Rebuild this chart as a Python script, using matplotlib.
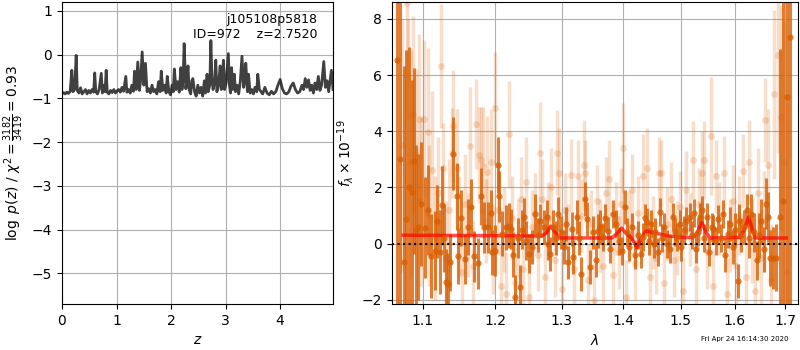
import numpy as np
import matplotlib
matplotlib.use("agg")
import matplotlib.pyplot as plt
from matplotlib.ticker import NullLocator, FixedLocator, FixedFormatter

# redshift fit, log p(z)
z_grid = [0.00, 0.03, 0.06, 0.09, 0.12, 0.15, 0.18, 0.20, 0.23, 0.26, 0.28, 0.31, 0.34, 0.37,
          0.40, 0.43, 0.46, 0.49, 0.52, 0.55, 0.58, 0.60, 0.62, 0.65, 0.68, 0.72, 0.74, 0.77,
          0.79, 0.81, 0.83, 0.86, 0.89, 0.92, 0.95, 0.98, 1.01, 1.04, 1.07, 1.10, 1.13, 1.17,
          1.19, 1.22, 1.25, 1.28, 1.31, 1.33, 1.36, 1.39, 1.42, 1.44, 1.47, 1.50, 1.53, 1.56,
          1.59, 1.62, 1.65, 1.68, 1.71, 1.74, 1.77, 1.80, 1.82, 1.85, 1.88, 1.91, 1.93, 1.96,
          1.99, 2.02, 2.04, 2.06, 2.09, 2.12, 2.15, 2.18, 2.20, 2.22, 2.24, 2.27, 2.29, 2.31,
          2.33, 2.36, 2.38, 2.40, 2.43, 2.46, 2.49, 2.52, 2.55, 2.58, 2.61, 2.63, 2.66, 2.68,
          2.71, 2.73, 2.75, 2.77, 2.80, 2.82, 2.84, 2.87, 2.90, 2.92, 2.94, 2.96, 2.98, 3.01,
          3.05, 3.07, 3.09, 3.11, 3.13, 3.16, 3.18, 3.21, 3.24, 3.27, 3.30, 3.33, 3.35, 3.37,
          3.40, 3.42, 3.45, 3.48, 3.51, 3.54, 3.57, 3.59, 3.62, 3.65, 3.68, 3.72, 3.76, 3.80,
          3.84, 3.88, 3.92, 3.96, 4.00, 4.04, 4.08, 4.12, 4.16, 4.20, 4.24, 4.28, 4.32, 4.36,
          4.40, 4.43, 4.46, 4.49, 4.52, 4.55, 4.58, 4.61, 4.64, 4.67, 4.70, 4.73, 4.76, 4.80,
          4.83, 4.86, 4.89, 4.92, 4.94, 4.97]
log_pz = [-0.90, -0.87, -0.90, -0.86, -0.89, -0.84, -0.36, -0.85, -0.80, -0.02, -0.82, -0.88, -0.76, -0.90,
          -0.85, -0.80, -0.90, -0.82, -0.88, -0.80, -0.86, -0.42, -0.85, -0.90, -0.80, -0.43, -0.88, -0.70,
          -0.85, -0.36, -0.86, -0.90, -0.82, -0.87, -0.80, -0.88, -0.83, -0.80, -0.86, -0.75, -0.84, -0.50,
          -0.86, -0.80, -0.88, -0.70, -0.84, -0.38, -0.80, -0.17, -0.82, -0.60, 0.06, -0.70, -0.20, -0.85,
          -0.78, -0.88, -0.70, -0.85, -0.80, -0.90, -0.62, -0.85, -0.38, -0.82, -0.70, -0.88, -0.50, -0.85,
          -0.92, -0.70, -0.85, -0.33, -0.80, -0.62, -0.86, -0.30, -0.80, -0.58, 0.25, -0.78, -0.62, -0.26,
          -0.80, -0.90, -0.60, -0.55, -0.85, -0.95, -0.70, -0.88, -0.75, -0.95, -0.60, -0.88, -0.45, -0.85,
          -0.70, 0.32, -0.55, -0.80, -0.60, -0.13, -0.85, -0.70, -0.26, -0.80, -0.55, -0.13, -0.80, -0.65,
          0.02, -0.70, -0.88, -0.30, -0.80, -0.45, -0.85, -0.70, -0.90, -0.60, -0.04, -0.75, -0.62, -0.20,
          -0.85, -0.45, -0.88, -0.80, -0.90, -0.75, -0.85, -0.45, -0.80, -0.85, -0.90, -0.75, -0.88, -0.92,
          -0.84, -0.90, -0.85, -0.70, -0.57, -0.78, -0.88, -0.90, -0.85, -0.72, -0.65, -0.80, -0.88, -0.85,
          -0.70, -0.80, -0.55, -0.75, -0.58, -0.82, -0.70, -0.88, -0.65, -0.80, -0.50, -0.82, -0.70, -0.16,
          -0.75, -0.60, -0.85, -0.55, -0.36, -0.80]

# spectrum, first beam (strong)
wave_a = [1.0662, 1.0709, 1.0756, 1.0784, 1.0827, 1.0858, 1.0890, 1.0913, 1.0937, 1.0976,
          1.1033, 1.1073, 1.1114, 1.1163, 1.1195, 1.1228, 1.1260, 1.1285, 1.1309, 1.1342,
          1.1374, 1.1415, 1.1458, 1.1483, 1.1525, 1.1576, 1.1618, 1.1652, 1.1694, 1.1753,
          1.1804, 1.1846, 1.1899, 1.1934, 1.1960, 1.1995, 1.2039, 1.2057, 1.2100, 1.2152,
          1.2196, 1.2231, 1.2257, 1.2293, 1.2329, 1.2366, 1.2393, 1.2420, 1.2456, 1.2493,
          1.2538, 1.2592, 1.2628, 1.2665, 1.2719, 1.2766, 1.2794, 1.2823, 1.2870, 1.2907,
          1.2936, 1.2983, 1.3030, 1.3067, 1.3105, 1.3162, 1.3181, 1.3239, 1.3268, 1.3307,
          1.3365, 1.3404, 1.3453, 1.3492, 1.3541, 1.3580, 1.3609, 1.3658, 1.3697, 1.3738,
          1.3778, 1.3829, 1.3879, 1.3920, 1.3970, 1.4031, 1.4061, 1.4102, 1.4142, 1.4193,
          1.4246, 1.4298, 1.4330, 1.4361, 1.4403, 1.4435, 1.4476, 1.4518, 1.4550, 1.4592,
          1.4623, 1.4665, 1.4707, 1.4751, 1.4805, 1.4859, 1.4903, 1.4936, 1.4979, 1.5012,
          1.5055, 1.5088, 1.5164, 1.5207, 1.5240, 1.5285, 1.5319, 1.5352, 1.5386, 1.5431,
          1.5476, 1.5521, 1.5566, 1.5600, 1.5645, 1.5690, 1.5735, 1.5780, 1.5826, 1.5872,
          1.5919, 1.5966, 1.6013, 1.6060, 1.6095, 1.6130, 1.6188, 1.6235, 1.6282, 1.6329,
          1.6387, 1.6435, 1.6483, 1.6519, 1.6567, 1.6615, 1.6651, 1.6700, 1.6760, 1.6820,
          1.6904, 1.6964, 1.7037, 1.7110]
flux_a = [6.55, 3.0, -0.67, 0.88, 2.0, 1.84, 2.94, 0.5, 0.58, 1.4,
          0.56, 1.2, -0.45, -0.25, 0.8, -0.3, 1.36, 0.2, -1.38, -1.45,
          -0.67, 3.2, 1.68, -0.45, 0.9, -0.55, 0.6, 1.3, -0.45, -0.7,
          1.68, 0.58, 0.58, 1.1, -0.3, -0.25, 2.79, 1.68, 0.35, 0.58,
          0.63, 0.52, -0.4, -1.9, 0.2, -1.55, 0.5, 0.94, 0.1, -0.36,
          -0.12, 1.05, 0.3, 0.82, 0.58, 0.94, 0.0, -0.36, 0.58, 0.2,
          1.05, 0.4, -0.12, 0.7, -0.67, 0.52, -0.48, 0.94, 0.2, -1.07,
          1.6, 0.88, -0.83, 0.4, -0.6, 0.46, 0.58, 0.23, 0.9, 0.46,
          -0.2, 1.05, 0.7, 0.1, -0.25, 1.3, 0.4, -0.12, 0.6, -0.42,
          0.3, -0.36, 0.23, 0.9, 0.76, 0.1, 0.7, 0.0, 0.4, -0.3,
          1.12, 0.2, 0.58, 0.0, -0.18, 0.94, 0.4, 0.23, 0.7, -0.12,
          0.5, 0.82, 0.94, 0.3, 1.1, -0.18, 0.4, 0.94, 1.18, 0.2,
          0.94, -0.3, 0.6, 0.52, 0.1, 0.89, 0.2, 1.06, -0.4, 0.35,
          0.7, -0.13, 0.5, -1.32, 0.8, 0.3, 0.6, 1.18, 0.2, 1.06,
          0.4, -0.6, 0.3, 0.8, -0.2, 1.42, 0.94, -0.5, -0.5, -0.5,
          0.94, 1.5, 5.22, 7.37]
err_a = [9.0, 8.0, 7.0, 6.0, 5.0, 4.0, 3.3, 3.0, 2.6, 2.2,
         1.8, 1.6, 1.5, 1.4, 1.3, 1.5, 1.4, 1.2, 1.2, 1.1,
         1.0, 1.3, 1.2, 1.0, 1.0, 0.9, 1.0, 1.0, 0.9, 0.9,
         1.0, 0.9, 0.9, 0.8, 0.8, 0.9, 1.0, 0.9, 0.8, 0.8,
         0.8, 0.7, 0.8, 0.8, 0.7, 0.8, 0.7, 0.7, 0.7, 0.7,
         0.6, 0.7, 0.6, 0.6, 0.6, 0.6, 0.6, 0.6, 0.6, 0.6,
         0.6, 0.6, 0.6, 0.6, 0.6, 0.6, 0.6, 0.6, 0.6, 0.6,
         0.6, 0.6, 0.6, 0.6, 0.6, 0.6, 0.6, 0.5, 0.5, 0.5,
         0.5, 0.5, 0.5, 0.5, 0.5, 0.6, 0.5, 0.5, 0.5, 0.5,
         0.5, 0.5, 0.5, 0.5, 0.5, 0.5, 0.5, 0.5, 0.5, 0.5,
         0.5, 0.5, 0.5, 0.5, 0.5, 0.5, 0.5, 0.5, 0.5, 0.5,
         0.5, 0.5, 0.5, 0.5, 0.5, 0.5, 0.5, 0.5, 0.5, 0.5,
         0.5, 0.5, 0.5, 0.5, 0.5, 0.5, 0.5, 0.5, 0.6, 0.5,
         0.6, 0.6, 0.6, 0.6, 0.6, 0.6, 0.6, 0.6, 0.7, 0.7,
         0.7, 0.7, 0.8, 0.8, 0.8, 0.9, 0.9, 1.0, 1.1, 1.2,
         6.0, 8.0, 10.0, 12.0]

# spectrum, second beam (faint)
wave_b = [1.0733, 1.0792, 1.0811, 1.0843, 1.0874, 1.0913, 1.0945, 1.0984, 1.1024, 1.1065,
          1.1090, 1.1122, 1.1163, 1.1204, 1.1244, 1.1277, 1.1317, 1.1350, 1.1391, 1.1415,
          1.1458, 1.1491, 1.1534, 1.1576, 1.1610, 1.1643, 1.1686, 1.1728, 1.1770, 1.1795,
          1.1829, 1.1864, 1.1890, 1.1934, 1.1969, 1.2004, 1.2039, 1.2083, 1.2126, 1.2161,
          1.2196, 1.2240, 1.2284, 1.2329, 1.2375, 1.2411, 1.2456, 1.2502, 1.2547, 1.2583,
          1.2628, 1.2665, 1.2701, 1.2747, 1.2794, 1.2841, 1.2889, 1.2926, 1.2954, 1.3002,
          1.3049, 1.3096, 1.3152, 1.3200, 1.3258, 1.3307, 1.3346, 1.3375, 1.3424, 1.3472,
          1.3521, 1.3570, 1.3619, 1.3667, 1.3717, 1.3768, 1.3819, 1.3869, 1.3920, 1.3960,
          1.4001, 1.4051, 1.4102, 1.4153, 1.4204, 1.4256, 1.4330, 1.4403, 1.4455, 1.4508,
          1.4560, 1.4613, 1.4655, 1.4707, 1.4761, 1.4816, 1.4870, 1.4925, 1.4979, 1.5033,
          1.5099, 1.5164, 1.5218, 1.5274, 1.5330, 1.5386, 1.5420, 1.5476, 1.5555, 1.5600,
          1.5656, 1.5713, 1.5791, 1.5849, 1.5908, 1.5966, 1.6025, 1.6095, 1.6165, 1.6224,
          1.6282, 1.6341, 1.6399, 1.6459, 1.6519, 1.6567, 1.6603, 1.6663, 1.6712, 1.6784,
          1.6856, 1.6928, 1.6976, 1.7037]
flux_b = [3.5, 8.56, 4.5, 2.9, 4.6, 3.2, 4.45, 1.5, 4.45, 3.98,
          1.0, 2.63, 0.2, 1.8, 6.32, 2.7, -0.5, 1.2, 3.24, 4.18,
          2.7, 0.6, -1.0, 1.4, 0.3, 3.46, -0.8, 4.27, 3.16, 2.97,
          2.76, 0.8, 2.55, 2.9, -0.2, 4.81, 1.2, -1.5, 0.5, -1.8,
          3.89, 0.9, -1.4, 0.2, 1.6, -0.9, 2.2, -1.9, 0.6, 1.1,
          -0.4, 3.24, 1.6, -1.2, 0.9, 2.0, -0.6, 3.24, 2.5, -1.6,
          1.2, 0.1, 2.44, -0.9, 2.4, 1.0, 2.8, 2.5, -1.3, 0.7,
          -2.0, 1.5, 0.3, -0.8, 1.8, 2.3, -1.1, 0.9, -0.3, 1.4,
          3.4, -1.9, 0.6, 1.9, -0.7, 1.1, 2.4, 2.7, -1.2, 0.4,
          -0.5, 2.5, 2.5, -1.4, 0.7, 1.6, -0.6, 0.2, 1.3, -1.7,
          1.9, 0.5, 2.97, -0.9, 1.4, 2.52, 2.97, -0.3, 3.82, -1.5,
          2.4, 0.9, 2.52, -1.8, 0.3, 1.5, -0.8, 1.0, 2.6, -1.2,
          2.9, 0.1, -1.7, 1.8, -0.5, 0.8, 4.39, 2.8, -1.3, 5.31,
          6.71, 4.5, 2.9, -1.0]
err_b = [4.5, 4.0, 3.5, 4.0, 3.5, 3.0, 3.0, 3.0, 2.8, 3.0,
         2.5, 2.8, 2.2, 2.0, 2.2, 1.6, 2.0, 1.8, 1.6, 2.0,
         2.1, 1.8, 1.6, 1.8, 1.5, 2.1, 1.6, 1.6, 1.7, 1.9,
         2.1, 1.5, 2.0, 1.9, 1.6, 2.0, 1.6, 1.5, 1.5, 1.5,
         1.9, 1.5, 1.4, 1.4, 1.5, 1.4, 1.6, 1.4, 1.3, 1.4,
         1.3, 1.8, 1.4, 1.3, 1.3, 1.4, 1.3, 1.5, 1.6, 1.3,
         1.3, 1.3, 1.3, 1.3, 1.3, 1.3, 1.6, 1.2, 1.3, 1.2,
         1.3, 1.3, 1.3, 1.3, 1.3, 1.4, 1.3, 1.3, 1.3, 1.3,
         1.6, 1.3, 1.3, 1.3, 1.3, 1.3, 1.5, 1.4, 1.3, 1.3,
         1.3, 1.3, 1.2, 1.2, 1.3, 1.3, 1.3, 1.3, 1.3, 1.2,
         1.4, 1.3, 1.4, 1.3, 1.3, 1.5, 1.4, 1.3, 2.1, 1.3,
         1.3, 1.3, 1.3, 1.3, 1.3, 1.3, 1.4, 1.4, 1.3, 1.4,
         1.5, 1.5, 1.6, 1.6, 1.7, 1.8, 1.5, 2.0, 2.0, 3.0,
         3.5, 4.0, 5.0, 6.0]

# best-fit model
wave_model = [1.0746, 1.2693, 1.2760, 1.2831, 1.2900, 1.2975, 1.3806, 1.3890, 1.3973, 1.4050,
              1.4130, 1.4180, 1.4229, 1.4300, 1.4388, 1.4500, 1.4755, 1.5000, 1.5224, 1.5300,
              1.5385, 1.5460, 1.5539, 1.6111, 1.6190, 1.6272, 1.6340, 1.6403, 1.7028]
flux_model = [0.30, 0.27, 0.38, 0.62, 0.40, 0.20, 0.20, 0.35, 0.55, 0.35,
              0.22, 0.05, -0.15, 0.20, 0.45, 0.40, 0.28, 0.22, 0.22, 0.40,
              0.75, 0.40, 0.20, 0.22, 0.50, 0.95, 0.55, 0.20, 0.20]

wave_ticks = [1.1, 1.2, 1.3, 1.4, 1.5, 1.6, 1.7]
wave_labels = ["1.1", "1.2", "1.3", "1.4", "1.5", "1.6", "1.7"]

spec_color = "#d95f02"

fig = plt.figure(figsize=(8, 3.5), dpi=100)

# p(z) panel
ax = fig.add_axes([0.0775, 0.1314, 0.3388, 0.8629])
ax.plot(z_grid, log_pz, color="k", alpha=0.75, lw=2)
ax.set_xlim(0, 4.97)
ax.set_ylim(-5.7, 1.2)
ax.set_xticks([0, 1, 2, 3, 4])
ax.set_yticks([-5, -4, -3, -2, -1, 0, 1])
ax.set_xlabel(r"$z$")
ax.set_ylabel(r"$\log\ p(z)$" + " / " + r"$\chi^2=\frac{3182}{3419}=0.93$")
ax.text(0.942, 0.965, "j105108p5818\nID=972    z=2.7520",
        ha="right", va="top", transform=ax.transAxes, fontsize=9)
ax.grid()

# spectrum panel
ax2 = fig.add_axes([0.49, 0.1314, 0.5075, 0.8629])
ax2.errorbar(wave_b, flux_b, yerr=err_b, color=spec_color, alpha=0.2,
             marker="o", ms=5, mew=0, linestyle="None", elinewidth=2.5)
ax2.errorbar(wave_a, flux_a, yerr=err_a, color=spec_color, alpha=0.8,
             marker="o", ms=4.5, mew=0, linestyle="None", elinewidth=2.2)
ax2.plot(wave_model, flux_model, color="r", alpha=0.7, lw=2.5)
ax2.axhline(0, color="k", linestyle=":", lw=1.5)
ax2.set_xscale("log")
ax2.set_xlim(1.0602, 1.7268)
ax2.set_ylim(-2.15, 8.6)
ax2.xaxis.set_major_locator(FixedLocator(wave_ticks))
ax2.xaxis.set_major_formatter(FixedFormatter(wave_labels))
ax2.xaxis.set_minor_locator(NullLocator())
ax2.set_yticks([-2, 0, 2, 4, 6, 8])
ax2.set_xlabel(r"$\lambda$")
ax2.set_ylabel(r"$f_\lambda\times10^{-19}$")
ax2.grid()

fig.text(0.876, 0.031, "Fri Apr 24 16:14:30 2020", fontsize=5, ha="left", va="center")

fig.savefig("out.png", dpi=100)
